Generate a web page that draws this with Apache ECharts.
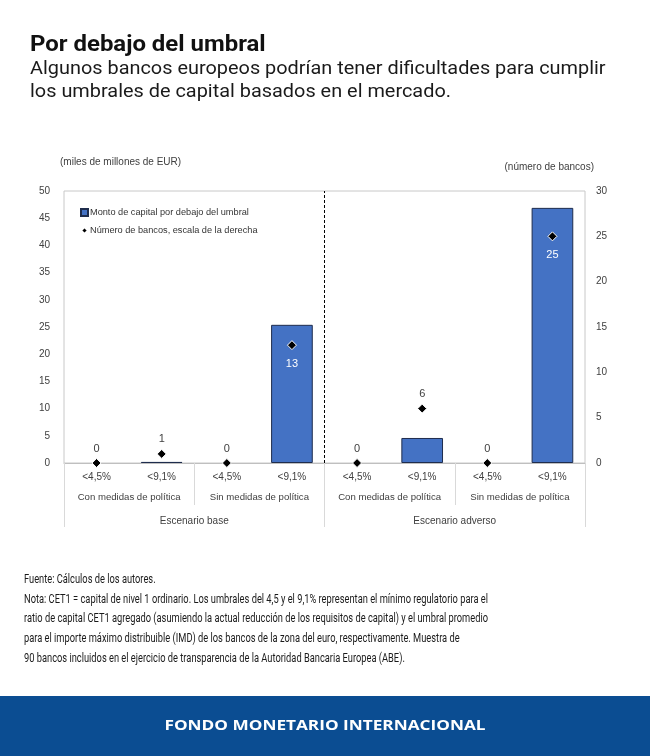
<!DOCTYPE html>
<html>
<head>
<meta charset="utf-8">
<script src="https://cdn.jsdelivr.net/npm/echarts@6/dist/echarts.min.js"></script>
<style>
  html, body { margin:0; padding:0; background:#fff; }
  #chart { width:650px; height:756px; }
</style>
</head>
<body>
<div id="chart"></div>
<script type="text/javascript">
// categorias (tres niveles)
var umbrales = ['<4,5%', '<9,1%', '<4,5%', '<9,1%', '<4,5%', '<9,1%', '<4,5%', '<9,1%'];
var medidas = ['Con medidas de política', 'Sin medidas de política', 'Con medidas de política', 'Sin medidas de política'];
var escenarios = ['Escenario base', 'Escenario adverso'];
// monto de capital por debajo del umbral (miles de millones de EUR)
var capital = [0, 0.2, 0, 25.4, 0, 4.6, 0, 46.9];
// número de bancos (escala de la derecha)
var bancos = [0, 1, 0, 13, 0, 6, 0, 25];
var titulo = 'Por debajo del umbral';
var subtitulo = [
  'Algunos bancos europeos podrían tener dificultades para cumplir',
  'los umbrales de capital basados en el mercado.'
];
var notas = [
  'Fuente: Cálculos de los autores.',
  'Nota: CET1 = capital de nivel 1 ordinario. Los umbrales del 4,5 y el 9,1% representan el mínimo regulatorio para el',
  'ratio de capital CET1 agregado (asumiendo la actual reducción de los requisitos de capital) y el umbral promedio',
  'para el importe máximo distribuible (IMD) de los bancos de la zona del euro, respectivamente. Muestra de',
  '90 bancos incluidos en el ejercicio de transparencia de la Autoridad Bancaria Europea (ABE).'
];
var pie = 'FONDO MONETARIO INTERNACIONAL';

var txt = '#404040';
var font = 'Liberation Sans';

var myChart = echarts.init(document.getElementById('chart'));

// etiqueta dentro de la barra (blanca, abajo) si el punto cae dentro de ella
var puntos = bancos.map(function (v, i) {
  var dentro = v / 30 < capital[i] / 50;
  return {
    value: v,
    label: dentro ? { position: 'bottom', color: '#fff', distance: 8 } : { position: 'top', color: txt, distance: 4 }
  };
});

var graficos = [
  { type: 'text', x: 30, y: 45, scaleX: 1.088,
    style: { text: titulo, fill: '#111', font: 'bold 22px Roboto', verticalAlign: 'middle' } },
  { type: 'rect', left: 0, top: 696, shape: { width: 650, height: 60 }, style: { fill: '#0b4d92' } },
  { type: 'text', x: 325, y: 725.5, scaleX: 1.147,
    style: { text: pie, fill: '#fff', font: 'bold 15px "Open Sans"', align: 'center', verticalAlign: 'middle' } }
];
subtitulo.forEach(function (t, i) {
  graficos.push({
    type: 'text', x: 30, y: 69.5 + i * 23, scaleX: 1.047,
    style: { text: t, fill: '#1a1a1a', font: '19px Roboto', verticalAlign: 'middle' }
  });
});
notas.forEach(function (t, i) {
  graficos.push({
    type: 'text', x: 24, y: 580 + i * 19.6, scaleX: 0.715,
    style: { text: t, fill: '#1a1a1a', font: '13px Roboto', verticalAlign: 'middle' }
  });
});

myChart.setOption({
  animation: false,
  textStyle: { fontFamily: font },
  legend: {
    orient: 'vertical', left: 80, top: 208, itemGap: 9, padding: 0,
    itemWidth: 7, itemHeight: 7,
    textStyle: { fontSize: 9.2, color: '#333', fontFamily: font, padding: [0, 0, 0, -3] },
    data: [
      { name: 'Monto de capital por debajo del umbral', icon: 'rect' },
      { name: 'Número de bancos, escala de la derecha', icon: 'diamond' }
    ]
  },
  grid: { left: 64, right: 65, top: 191, bottom: 293, show: true, borderColor: '#c8c8c8', borderWidth: 1 },
  xAxis: [
    {
      type: 'category', data: umbrales, position: 'bottom',
      axisLine: { lineStyle: { color: '#bfbfbf' } },
      axisTick: { show: false },
      axisLabel: { color: txt, fontSize: 10, margin: 9, interval: 0 }
    },
    {
      type: 'category', data: medidas, position: 'bottom',
      axisLine: { show: false },
      axisTick: { show: true, length: 42, interval: 0, lineStyle: { color: '#d9d9d9' } },
      axisLabel: { color: txt, fontSize: 9.6, margin: 29, interval: 0 }
    },
    {
      type: 'category', data: escenarios, position: 'bottom',
      axisLine: { show: false },
      axisTick: { show: true, length: 64, interval: 0, lineStyle: { color: '#d9d9d9' } },
      axisLabel: { color: txt, fontSize: 10, margin: 53, interval: 0 }
    },
    { type: 'value', min: 0, max: umbrales.length, show: false }
  ],
  yAxis: [
    {
      type: 'value', min: 0, max: 50, interval: 5,
      name: '(miles de millones de EUR)', nameLocation: 'end', nameGap: 24,
      nameTextStyle: { align: 'left', color: txt, fontSize: 10, padding: [0, 0, 0, -4] },
      axisLine: { show: false }, axisTick: { show: false }, splitLine: { show: false },
      axisLabel: { color: txt, fontSize: 10, margin: 14 }
    },
    {
      type: 'value', min: 0, max: 30, interval: 5, position: 'right',
      name: '(número de bancos)', nameLocation: 'end', nameGap: 19,
      nameTextStyle: { align: 'right', color: txt, fontSize: 10, padding: [0, -9, 0, 0] },
      axisLine: { show: false }, axisTick: { show: false }, splitLine: { show: false },
      axisLabel: { color: txt, fontSize: 10, margin: 11 }
    }
  ],
  series: [
    {
      name: 'Monto de capital por debajo del umbral',
      type: 'bar', xAxisIndex: 0, yAxisIndex: 0,
      data: capital.map(function (v) { return v === 0 ? null : v; }),
      barCategoryGap: '36%',
      itemStyle: { color: '#4472c4', borderColor: '#1f2d4d', borderWidth: 1 },
      z: 2
    },
    {
      name: 'Número de bancos, escala de la derecha',
      type: 'scatter', xAxisIndex: 0, yAxisIndex: 1,
      data: puntos,
      symbol: 'diamond', symbolSize: 9,
      itemStyle: { color: '#000', borderColor: '#fff', borderWidth: 1, opacity: 1 },
      label: { show: true, fontSize: 11, fontFamily: font },
      z: 5
    },
    {
      // linea discontinua entre escenarios
      name: 'separador', type: 'scatter', xAxisIndex: 3, yAxisIndex: 0,
      data: [], silent: true,
      markLine: {
        silent: true, symbol: 'none', label: { show: false },
        lineStyle: { color: '#000', type: [3, 2], width: 1 },
        data: [{ xAxis: umbrales.length / 2 }]
      }
    }
  ],
  graphic: graficos
});
</script>
</body>
</html>
